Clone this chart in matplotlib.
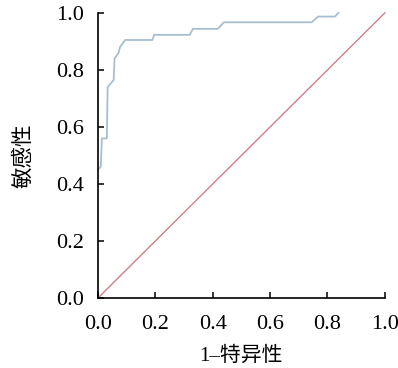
import matplotlib
matplotlib.use("Agg")
import matplotlib.pyplot as plt

# ROC curve points (1 - specificity, sensitivity)
fpr = [0.0, 0.010, 0.014, 0.031, 0.034, 0.055, 0.058, 0.072, 0.077, 0.095,
       0.190, 0.196, 0.320, 0.331, 0.418, 0.439, 0.745, 0.767, 0.826, 0.838]
tpr = [0.450, 0.460, 0.560, 0.560, 0.740, 0.765, 0.840, 0.860, 0.880, 0.905,
       0.905, 0.923, 0.923, 0.944, 0.944, 0.967, 0.967, 0.987, 0.987, 1.000]
ref_line = [0.0, 1.0]

ticks = [0.0, 0.2, 0.4, 0.6, 0.8, 1.0]
tick_labels = ["0.0", "0.2", "0.4", "0.6", "0.8", "1.0"]

X_AXIS = "1–特异性"
Y_AXIS = "敏感性"

FONTS = ["Liberation Serif", "Noto Sans CJK SC"]

ROC_COLOR = "#a6bfcf"
REF_COLOR = "#cf8088"

fig = plt.figure(figsize=(3.98, 3.68), dpi=100)
ax = fig.add_axes([0.246, 0.190, 0.721, 0.775])

ax.plot(ref_line, ref_line, color=REF_COLOR, lw=1.0, clip_on=False)
ax.plot(fpr, tpr, color=ROC_COLOR, lw=1.3, clip_on=False)

ax.set_xlim(0, 1)
ax.set_ylim(0, 1)
ax.set_xticks(ticks)
ax.set_yticks(ticks)
ax.set_xticklabels(tick_labels, family=FONTS, fontsize=16)
ax.set_yticklabels(tick_labels, family=FONTS, fontsize=16)

for side in ("top", "right"):
    ax.spines[side].set_visible(False)
for side in ("left", "bottom"):
    ax.spines[side].set_linewidth(1.2)

ax.tick_params(axis="x", direction="in", length=4, width=1.1, pad=12)
ax.tick_params(axis="y", direction="in", length=4, width=1.1, pad=10)

ax.set_xlabel(X_AXIS, family=FONTS, fontsize=15, labelpad=9)
ax.set_ylabel(Y_AXIS, family=FONTS, fontsize=15.5, labelpad=16)

fig.savefig("out.png", dpi=100)
